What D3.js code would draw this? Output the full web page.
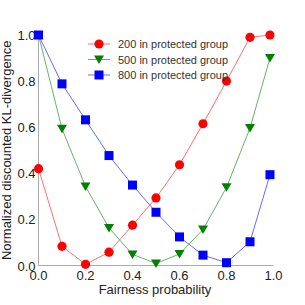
<!DOCTYPE html>
<html>
<head>
<meta charset="utf-8">
<script src="https://cdn.jsdelivr.net/npm/d3@7"></script>
<style>
  body { margin: 0; background: #fff; }
  text { font-family: "Liberation Sans", Arial, sans-serif; }
</style>
</head>
<body>
<div id="chart"></div>
<script>
// fairness probabilities (x)
var xValues = [0, 0.1, 0.2, 0.3, 0.4, 0.5, 0.6, 0.7, 0.8, 0.9, 0.985];

var red200 = [0.42, 0.083, 0.005, 0.058, 0.175, 0.293, 0.437, 0.615, 0.80, 0.99, 1.0];
var green500 = [1.0, 0.593, 0.343, 0.163, 0.048, 0.009, 0.05, 0.156, 0.339, 0.596, 0.90];
var blue800 = [1.0, 0.788, 0.632, 0.477, 0.349, 0.231, 0.124, 0.045, 0.012, 0.103, 0.394];

var seriesNames = ["200 in protected group", "500 in protected group", "800 in protected group"];
var tickLabels = [0, 0.2, 0.4, 0.6, 0.8, 1.0];

var W = 305, H = 305;
var plotLeft = 38.5, plotRight = 273.5, plotTop = 35, plotBottom = 265.5;

var svg = d3.select("#chart").append("svg")
  .attr("width", W).attr("height", H);

var x = d3.scaleLinear().domain([0, 1]).range([plotLeft, plotRight]);
var y = d3.scaleLinear().domain([0, 1]).range([plotBottom, plotTop]);

// spines
svg.append("line").attr("x1", plotLeft).attr("x2", plotLeft).attr("y1", plotTop).attr("y2", plotBottom)
  .attr("stroke", "#aaa").attr("stroke-width", 1);
svg.append("line").attr("x1", plotLeft).attr("x2", plotRight).attr("y1", plotBottom).attr("y2", plotBottom)
  .attr("stroke", "#aaa").attr("stroke-width", 1);

// tick labels
svg.selectAll(".xt").data(tickLabels).enter().append("text")
  .attr("x", d => x(d)).attr("y", plotBottom + 14)
  .attr("text-anchor", "middle").attr("font-size", 13).attr("fill", "#222")
  .text(d => d.toFixed(1));
svg.selectAll(".yt").data(tickLabels).enter().append("text")
  .attr("x", plotLeft - 3).attr("y", d => y(d) + 5)
  .attr("text-anchor", "end").attr("font-size", 13).attr("fill", "#222")
  .text(d => d.toFixed(1));

// axis titles
svg.append("text").attr("x", (plotLeft + plotRight) / 2 - 1).attr("y", 294)
  .attr("text-anchor", "middle").attr("font-size", 13).attr("fill", "#222")
  .text("Fairness probability");
svg.append("text").attr("transform", "translate(11," + ((plotTop + plotBottom) / 2) + ") rotate(-90)")
  .attr("text-anchor", "middle").attr("font-size", 13).attr("fill", "#222")
  .text("Normalized discounted KL-divergence");

var series = [
  { name: seriesNames[0], values: red200, color: "#ff0000", line: "#ff7070", marker: "circle" },
  { name: seriesNames[1], values: green500, color: "#008000", line: "#66b366", marker: "tri" },
  { name: seriesNames[2], values: blue800, color: "#0000ff", line: "#6a6aff", marker: "square" }
];

var line = d3.line().x((d, i) => x(xValues[i])).y(d => y(d));

function drawMarker(g, type, cx, cy, color) {
  if (type === "circle") {
    g.append("circle").attr("cx", cx).attr("cy", cy).attr("r", 4.6).attr("fill", color);
  } else if (type === "tri") {
    var s = 5;
    g.append("path")
      .attr("d", `M${cx - s},${cy - s * 0.8}L${cx + s},${cy - s * 0.8}L${cx},${cy + s * 0.9}Z`)
      .attr("fill", color);
  } else {
    g.append("rect").attr("x", cx - 4.5).attr("y", cy - 4.5).attr("width", 9).attr("height", 9)
      .attr("fill", color);
  }
}

series.forEach(function (s) {
  svg.append("path").datum(s.values).attr("d", line)
    .attr("fill", "none").attr("stroke", s.line).attr("stroke-width", 1);
});
series.forEach(function (s) {
  var g = svg.append("g");
  s.values.forEach(function (v, i) { drawMarker(g, s.marker, x(xValues[i]), y(v), s.color); });
});

// legend
series.forEach(function (s, i) {
  var ly = 44 + i * 15.5;
  svg.append("line").attr("x1", 88).attr("x2", 110).attr("y1", ly).attr("y2", ly)
    .attr("stroke", s.line).attr("stroke-width", 1);
  drawMarker(svg, s.marker, 99, ly, s.color);
  svg.append("text").attr("x", 118).attr("y", ly + 4).attr("font-size", 11).attr("fill", "#333")
    .text(s.name);
});
</script>
</body>
</html>
